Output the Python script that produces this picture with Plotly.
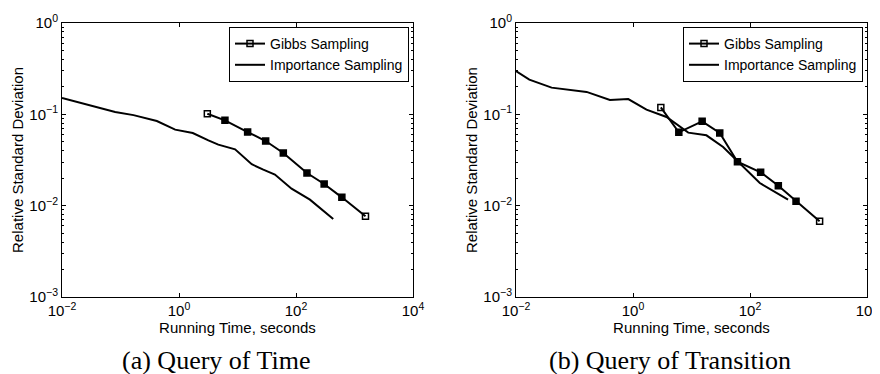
import plotly.graph_objects as go

# ---- data ----
gibbs_time_a = [3.05, 6.1, 14.9, 30.3, 60.7, 154, 303, 608, 1541]
gibbs_rsd_a = [0.1016, 0.0859, 0.064, 0.051, 0.0377, 0.0228, 0.01726, 0.01234, 0.00764]
imp_time_a = [0.01, 0.081, 0.167, 0.418, 0.86, 1.72, 3.18, 4.7, 9.1, 17.5, 27.6, 43.6, 84, 173, 433]
imp_rsd_a = [0.151, 0.106, 0.098, 0.0845, 0.068, 0.0625, 0.0519, 0.0466, 0.0414, 0.0284, 0.0248, 0.0219, 0.01535, 0.01163, 0.00714]

gibbs_time_b = [2.99, 6.07, 15.2, 30.4, 61, 152, 305, 612, 1549]
gibbs_rsd_b = [0.119, 0.0635, 0.0838, 0.0625, 0.0303, 0.0232, 0.01656, 0.01115, 0.00674]
imp_time_b = [0.01, 0.0169, 0.0406, 0.161, 0.403, 0.83, 1.70, 3.74, 8.8, 18, 34.7, 61, 147, 447]
imp_rsd_b = [0.298, 0.24, 0.196, 0.176, 0.1435, 0.147, 0.1125, 0.0935, 0.063, 0.0589, 0.0439, 0.031, 0.0177, 0.01163]

x_tickvals = [1e-2, 1e0, 1e2, 1e4]
x_ticktext = ["10<sup>\u22122</sup>", "10<sup>0</sup>", "10<sup>2</sup>", "10<sup>4</sup>"]
y_tickvals = [1e-3, 1e-2, 1e-1, 1e0]
y_ticktext = ["10<sup>\u22123</sup>", "10<sup>\u22122</sup>", "10<sup>\u22121</sup>", "10<sup>0</sup>"]
y_minor = [m * 10 ** e for e in (-3, -2, -1) for m in range(2, 10)]

series_names = ["Gibbs Sampling", "Importance Sampling"]
x_title = "Running Time, seconds"
y_title = "Relative Standard Deviation"
captions = ["(a) Query of Time", "(b) Query of Transition"]

# page has an 8px body margin: the figure sits at (8, 8) in the window
OFF = 8
W, H = 880 - OFF, 374 - OFF
FONT = "Liberation Sans, Arial, Helvetica, sans-serif"


def px(xw):
    return (xw - OFF) / W


def py(yw):
    return 1 - (yw - OFF) / H


fig = go.Figure()


def marker_symbols(n):
    return ["square-open"] + ["square"] * (n - 2) + ["square-open"]


panels = [
    (gibbs_time_a, gibbs_rsd_a, imp_time_a, imp_rsd_a, "x", "y", "legend"),
    (gibbs_time_b, gibbs_rsd_b, imp_time_b, imp_rsd_b, "x2", "y2", "legend2"),
]
for gx, gy, ix, iy, xa, ya, lg in panels:
    fig.add_trace(go.Scatter(
        x=gx, y=gy, mode="lines+markers", name=series_names[0],
        line=dict(color="black", width=2),
        marker=dict(symbol=marker_symbols(len(gx)), size=6, color="black",
                    line=dict(color="black", width=1.5)),
        xaxis=xa, yaxis=ya, legend=lg))
    fig.add_trace(go.Scatter(
        x=ix, y=iy, mode="lines", name=series_names[1],
        line=dict(color="black", width=2),
        xaxis=xa, yaxis=ya, legend=lg))

axis_common = dict(
    type="log", showgrid=False, zeroline=False, showline=True,
    linecolor="black", linewidth=1, mirror="allticks",
    ticks="inside", ticklen=4, tickcolor="black", tickwidth=1,
    tickfont=dict(family=FONT, size=15, color="black"),
    automargin=False,
)

xdoms = [(px(62), px(413)), (px(516), px(867))]
ydom = (py(297), py(23))

for i, xd in enumerate(xdoms):
    sx = "" if i == 0 else "2"
    fig.layout["xaxis" + sx] = dict(
        axis_common, domain=list(xd), range=[-2, 4],
        tickmode="array", tickvals=x_tickvals, ticktext=x_ticktext,
        anchor="y" + sx,
        title=dict(text=x_title, font=dict(family=FONT, size=15, color="black"), standoff=0),
    )
    fig.layout["yaxis" + sx] = dict(
        axis_common, domain=list(ydom), range=[-3, 0],
        tickmode="array", tickvals=y_tickvals, ticktext=y_ticktext,
        anchor="x" + sx,
        minor=dict(ticks="inside", ticklen=2, tickcolor="black", tickwidth=1,
                   tickmode="array", tickvals=y_minor, showgrid=False),
        title=dict(text=y_title, font=dict(family=FONT, size=15, color="black"), standoff=2),
    )

legend_common = dict(
    bgcolor="white", bordercolor="black", borderwidth=1,
    font=dict(family=FONT, size=14, color="black"),
    xanchor="right", yanchor="top", y=py(27),
    tracegroupgap=0, itemwidth=30,
)
fig.update_layout(
    legend=dict(legend_common, x=px(409)),
    legend2=dict(legend_common, x=px(863)),
)

for cap, cx in zip(captions, [215.5, 670]):
    fig.add_annotation(
        text=cap, x=px(cx), y=py(360), xref="paper", yref="paper",
        showarrow=False, xanchor="center", yanchor="middle",
        font=dict(family="Liberation Serif, Times New Roman, serif", size=26, color="black"))

fig.update_layout(
    width=W, height=H, margin=dict(l=0, r=0, t=0, b=0),
    paper_bgcolor="white", plot_bgcolor="white", showlegend=True,
)

fig.write_html("out.html")
